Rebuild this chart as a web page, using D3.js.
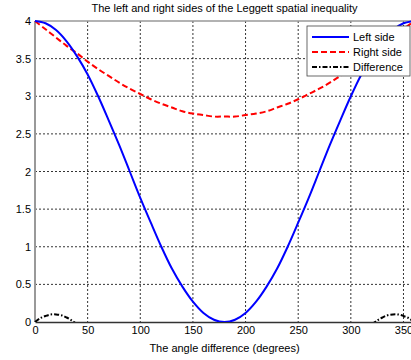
<!DOCTYPE html>
<html>
<head>
<meta charset="utf-8">
<script src="https://cdn.jsdelivr.net/npm/d3@7"></script>
<style>
  body { margin: 0; background: #fff; overflow: hidden; }
  svg { font-family: "Liberation Sans", Arial, sans-serif; }
</style>
</head>
<body>
<div id="chart"></div>
<script>
// angles in degrees, read every 10 degrees
const angles = [0, 10, 20, 30, 40, 50, 60, 70, 80, 90, 100, 110, 120, 130, 140, 150, 160, 170, 180,
  190, 200, 210, 220, 230, 240, 250, 260, 270, 280, 290, 300, 310, 320, 330, 340, 350, 360];
const leftSide = [4.0, 3.97, 3.88, 3.73, 3.53, 3.29, 3.0, 2.68, 2.35, 2.0, 1.65, 1.32, 1.0, 0.71, 0.47, 0.27, 0.12, 0.03, 0.0,
  0.03, 0.12, 0.27, 0.47, 0.71, 1.0, 1.32, 1.65, 2.0, 2.35, 2.68, 3.0, 3.29, 3.53, 3.73, 3.88, 3.97, 4.0];
const rightSide = [4.0, 3.89, 3.78, 3.67, 3.57, 3.46, 3.36, 3.27, 3.18, 3.1, 3.03, 2.96, 2.9, 2.85, 2.8, 2.77, 2.75, 2.73, 2.73,
  2.73, 2.75, 2.77, 2.8, 2.85, 2.9, 2.96, 3.03, 3.1, 3.18, 3.27, 3.36, 3.46, 3.57, 3.67, 3.78, 3.89, 4.0];
// difference, only the visible humps near 0 and 360 degrees
const diffAngles = [0, 5, 10, 15, 20, 25, 30, 35, 40, null, 320, 325, 330, 335, 340, 345, 350, 355, 360];
const difference = [0, 0.05, 0.08, 0.1, 0.1, 0.09, 0.06, 0.02, -0.03, null, -0.03, 0.02, 0.06, 0.09, 0.1, 0.1, 0.08, 0.05, 0];

const xTicks = [0, 50, 100, 150, 200, 250, 300, 350];
const yTicks = [0, 0.5, 1, 1.5, 2, 2.5, 3, 3.5, 4];
const seriesNames = ['Left side', 'Right side', 'Difference'];

const W = 411, H = 360;
const margin = { top: 21, right: -3, bottom: 38, left: 35 };
const width = W - margin.left - margin.right;
const height = H - margin.top - margin.bottom;

const svg = d3.select('#chart').append('svg')
  .attr('width', W).attr('height', H);

const g = svg.append('g')
  .attr('transform', `translate(${margin.left},${margin.top})`);

const x = d3.scaleLinear().domain([0, 360]).range([0, width]);
const y = d3.scaleLinear().domain([0, 4]).range([height, 0]);

g.append('defs').append('clipPath').attr('id', 'clip')
  .append('rect').attr('x', -2).attr('y', -2).attr('width', width + 4).attr('height', height + 2);

// grid
g.append('g').selectAll('line').data(xTicks.filter(d => d > 0)).enter().append('line')
  .attr('x1', d => x(d)).attr('x2', d => x(d)).attr('y1', 0).attr('y2', height)
  .attr('stroke', '#000').attr('stroke-width', 0.8).attr('stroke-dasharray', '2,2');
g.append('g').selectAll('line').data(yTicks.filter(d => d > 0 && d < 4)).enter().append('line')
  .attr('x1', 0).attr('x2', width).attr('y1', d => y(d)).attr('y2', d => y(d))
  .attr('stroke', '#000').attr('stroke-width', 0.8).attr('stroke-dasharray', '2,2');

// frame
g.append('line').attr('x1', 0).attr('x2', width).attr('y1', 0).attr('y2', 0)
  .attr('stroke', '#999').attr('stroke-width', 1.5);
g.append('line').attr('x1', 0).attr('x2', 0).attr('y1', 0).attr('y2', height)
  .attr('stroke', '#999').attr('stroke-width', 2);

// axes
const xAxis = g.append('g').attr('transform', `translate(0,${height})`)
  .call(d3.axisBottom(x).tickValues(xTicks).tickSize(0).tickPadding(4));
xAxis.select('.domain').attr('stroke', '#333').attr('stroke-width', 1.5);
xAxis.selectAll('text').style('font-size', '11px').attr('fill', '#000');

const yAxis = g.append('g')
  .call(d3.axisLeft(y).tickValues(yTicks).tickSize(0).tickPadding(4).tickFormat(d3.format('')));
yAxis.select('.domain').remove();
yAxis.selectAll('text').style('font-size', '11px').attr('fill', '#000');

// lines
const plot = g.append('g').attr('clip-path', 'url(#clip)');
const line = d3.line().curve(d3.curveCatmullRom)
  .x(d => x(d[0])).y(d => y(d[1]))
  .defined(d => d[0] !== null);

plot.append('path').datum(angles.map((a, i) => [a, rightSide[i]]))
  .attr('d', line).attr('fill', 'none').attr('stroke', '#ff0000')
  .attr('stroke-width', 2).attr('stroke-dasharray', '6,3');
plot.append('path').datum(angles.map((a, i) => [a, leftSide[i]]))
  .attr('d', line).attr('fill', 'none').attr('stroke', '#0000ff')
  .attr('stroke-width', 2);
plot.append('path').datum(diffAngles.map((a, i) => [a, difference[i]]))
  .attr('d', line).attr('fill', 'none').attr('stroke', '#000')
  .attr('stroke-width', 2).attr('stroke-dasharray', '5,2,1.5,2');

// title and label
svg.append('text').attr('x', margin.left + width / 2).attr('y', 12)
  .attr('text-anchor', 'middle').style('font-size', '11px')
  .text('The left and right sides of the Leggett spatial inequality');
svg.append('text').attr('x', margin.left + width / 2).attr('y', 352)
  .attr('text-anchor', 'middle').style('font-size', '11px')
  .text('The angle difference (degrees)');

// legend
const legend = svg.append('g').attr('transform', 'translate(307,26)');
legend.append('rect').attr('width', 103).attr('height', 50)
  .attr('fill', '#fff').attr('stroke', '#444').attr('stroke-width', 0.8);
const styles = [
  { c: '#0000ff', dash: null },
  { c: '#ff0000', dash: '6,3' },
  { c: '#000', dash: '5,2,1.5,2' }
];
seriesNames.forEach((name, i) => {
  const yy = 11 + i * 15;
  legend.append('line').attr('x1', 5).attr('x2', 42).attr('y1', yy).attr('y2', yy)
    .attr('stroke', styles[i].c).attr('stroke-width', 2)
    .attr('stroke-dasharray', styles[i].dash);
  legend.append('text').attr('x', 46).attr('y', yy + 4)
    .style('font-size', '11px').text(name);
});
</script>
</body>
</html>
